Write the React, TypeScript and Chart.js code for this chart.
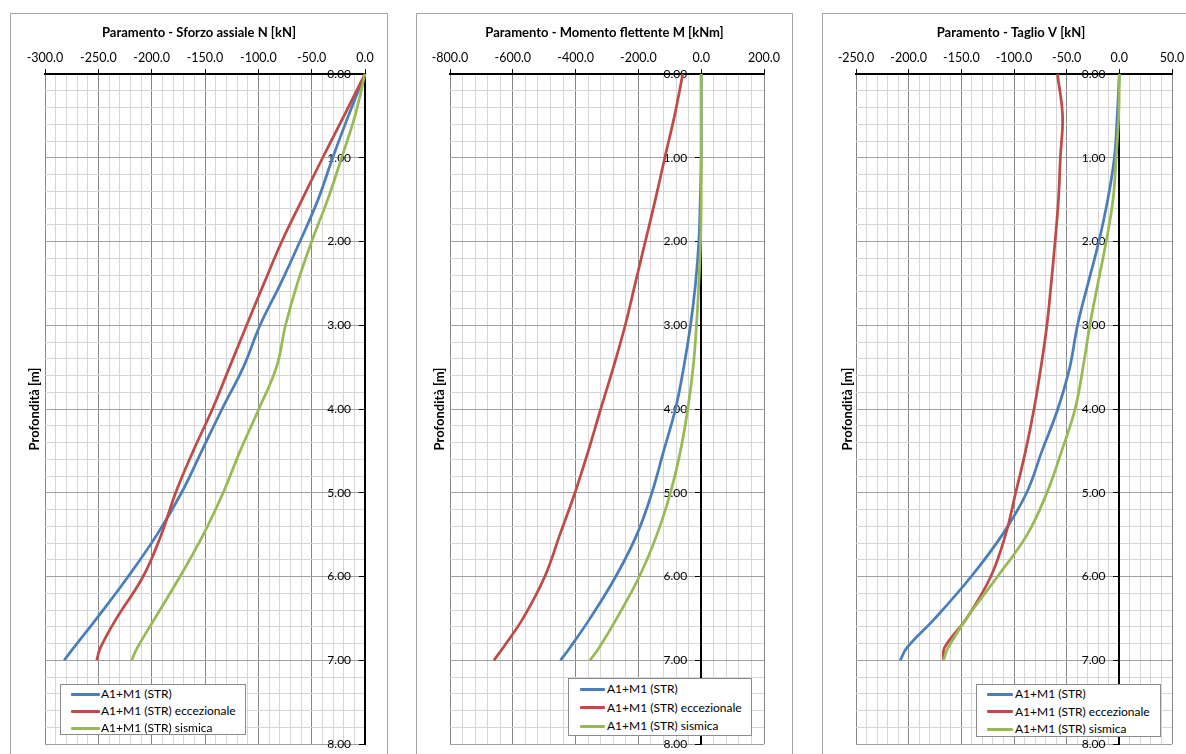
import React, { useEffect, useRef } from 'react';
import { Chart, registerables } from 'chart.js';

Chart.register(...registerables);

const FONT = 'Lato, "Liberation Sans", sans-serif';

// Depth values (m)
const depths = [0, 0.5, 1, 1.5, 2, 2.5, 3, 3.5, 4, 4.5, 5, 5.5, 6, 6.5, 6.85, 7];

const seriesNames = ['A1+M1 (STR)', 'A1+M1 (STR) eccezionale', 'A1+M1 (STR) sismica'];
const seriesColors = ['#4a7ebb', '#be4b48', '#98b954'];

// Sforzo assiale N [kN]
const nStr = [0, -15.6, -30.3, -44, -61, -79, -98.4, -114, -134, -153, -172, -195, -222, -251.5, -273, -282];
const nEcc = [0, -19.7, -39.7, -59, -78, -94.7, -111, -127, -143, -161, -177.5, -191, -208, -233, -248, -251.5];
const nSis = [0, -9.4, -21.9, -35, -50, -63.4, -74.5, -83, -99.5, -117, -133, -151.6, -173.4, -197, -213.4, -218.75];

// Momento flettente M [kNm]
const mStr = [0, 0, 0, -3, -7.5, -18, -34, -55.5, -82, -119.5, -157, -205, -272, -354, -418, -448];
const mEcc = [-58.7, -85, -116, -146, -178, -210, -242, -279.5, -320, -359.5, -402, -450, -498, -567.5, -631, -660];
const mSis = [0, 0, 0, 0, -2, -7.5, -15, -25.6, -42.7, -66, -98, -141, -197, -269, -325, -354];

// Taglio V [kN]
const vStr = [0, -2, -4.7, -11, -19.4, -29.7, -39.7, -47, -58.4, -73.4, -88, -111, -140.6, -175, -201.6, -208];
const vEcc = [-58.75, -53.9, -56, -57.8, -61, -64.7, -68.75, -74.4, -81, -89, -98.4, -108, -122, -145, -166, -167];
const vSis = [0, -0.6, -3, -6, -12.5, -20.3, -28, -34.4, -42, -54.7, -68.75, -87.5, -115.6, -145, -162.5, -167];

const titles = [
  'Paramento - Sforzo assiale N [kN]',
  'Paramento - Momento flettente M [kNm]',
  'Paramento - Taglio V [kN]',
];
const yTitle = 'Profondità [m]';

// x axis ranges: [min, max, major, minor]
const xRangeN = [-300, 0, 50, 10];
const xRangeM = [-800, 200, 200, 40];
const xRangeV = [-250, 50, 50, 10];
// y axis: [min, max, major, minor]
const yRange = [0, 8, 1, 0.2];

type LegendLayout = {
  left: number; top: number; width: number; height: number;
  sampleLeft: number; sampleWidth: number; textLeft: number; rowTop: number; rowGap: number;
};

type PanelCfg = {
  left: number; width: number; plotLeft: number; padRight: number; yTitleX: number;
  title: string; series: number[][]; xr: number[]; legend: LegendLayout;
};

const panels: PanelCfg[] = [
  {
    left: 10, width: 378, plotLeft: 34, padRight: 22, yTitleX: 24, title: titles[0],
    series: [nStr, nEcc, nSis], xr: xRangeN,
    legend: { left: 49, top: 670, width: 186, height: 51, sampleLeft: 11, sampleWidth: 29, textLeft: 41, rowTop: 9, rowGap: 17 },
  },
  {
    left: 416, width: 377, plotLeft: 33, padRight: 28, yTitleX: 23, title: titles[1],
    series: [mStr, mEcc, mSis], xr: xRangeM,
    legend: { left: 151, top: 664, width: 184, height: 58, sampleLeft: 12, sampleWidth: 25, textLeft: 39, rowTop: 10, rowGap: 18.5 },
  },
  {
    left: 822, width: 378, plotLeft: 33, padRight: 27, yTitleX: 25, title: titles[2],
    series: [vStr, vEcc, vSis], xr: xRangeV,
    legend: { left: 153, top: 670, width: 185, height: 53, sampleLeft: 11, sampleWidth: 26, textLeft: 39, rowTop: 9, rowGap: 17.5 },
  },
];

const PANEL_TOP = 13;
const PANEL_H = 780;
const PLOT_TOP = 60;
const PLOT_BOTTOM = 730;

const isMult = (v: number, step: number) => {
  const q = v / step;
  return Math.abs(q - Math.round(q)) < 1e-6;
};

function Panel({ cfg }: { cfg: PanelCfg }) {
  const ref = useRef<HTMLCanvasElement>(null);
  const innerW = cfg.width - 2;
  const innerH = PANEL_H - 2;

  useEffect(() => {
    const [xmin, xmax, xmaj, xmin2] = cfg.xr;
    const [ymin, ymax, ymaj, ymin2] = yRange;
    const titleFontSize = 13;
    const titleLH = titleFontSize * 1.2;
    const titlePadTop = 19 - titleLH / 2;
    const chart = new Chart(ref.current as HTMLCanvasElement, {
      type: 'scatter',
      data: {
        datasets: cfg.series.map((vals, i) => ({
          label: seriesNames[i],
          data: depths.map((d, j) => ({ x: vals[j], y: d })),
          showLine: true,
          borderColor: seriesColors[i],
          backgroundColor: seriesColors[i],
          borderWidth: 2.75,
          pointRadius: 0,
          pointHoverRadius: 0,
          tension: 0.4,
          clip: false as any,
          order: 2 - i,
          xAxisID: 'x',
          yAxisID: 'y',
        })),
      },
      options: {
        responsive: false,
        animation: false,
        events: [],
        layout: { padding: { left: 0, right: 0, top: 0, bottom: innerH - PLOT_BOTTOM } },
        plugins: {
          legend: { display: false },
          tooltip: { enabled: false },
          title: {
            display: true,
            text: cfg.title,
            color: '#000',
            font: { family: FONT, size: titleFontSize, weight: 'bold' },
            padding: { top: titlePadTop, bottom: 0 },
          },
        },
        scales: {
          x: {
            type: 'linear',
            position: 'top',
            min: xmin,
            max: xmax,
            ticks: {
              stepSize: xmin2,
              autoSkip: false,
              maxRotation: 0,
              color: '#000',
              padding: 4,
              font: { family: FONT, size: 12.5 },
              callback: (v: any) => (isMult(Number(v), xmaj) ? Number(v).toFixed(1) : ''),
            },
            grid: {
              color: (c: any) => (isMult(c.tick.value, xmaj) ? '#868686' : '#d6d6d6'),
              lineWidth: 1,
              tickLength: 5,
              tickColor: (c: any) => (isMult(c.tick.value, xmaj) ? '#000' : 'rgba(0,0,0,0)'),
            },
            border: { color: '#000', width: 2 },
            afterFit: (s: any) => {
              s.height = PLOT_TOP - (titlePadTop + titleLH);
            },
          },
          y: {
            type: 'linear',
            position: { x: 0 } as any,
            reverse: true,
            min: ymin,
            max: ymax,
            ticks: {
              stepSize: ymin2,
              autoSkip: false,
              color: '#000',
              font: { family: FONT, size: 12 },
              // trailing figure spaces keep the label clear of the axis line
              callback: (v: any) => (isMult(Number(v), ymaj) ? Number(v).toFixed(2) + '\u2007\u2007' : ''),
            },
            grid: {
              color: (c: any) => (isMult(c.tick.value, ymaj) ? '#a0a0a0' : '#d6d6d6'),
              lineWidth: 1,
              tickLength: 5,
              tickColor: (c: any) => (isMult(c.tick.value, ymaj) ? '#000' : 'rgba(0,0,0,0)'),
            },
            border: { color: '#000', width: 2 },
          },
          yTitle: {
            type: 'linear',
            position: 'left',
            min: ymin,
            max: ymax,
            ticks: { display: false },
            grid: { display: false, drawTicks: false },
            border: { display: false },
            title: {
              display: true,
              text: yTitle,
              color: '#000',
              font: { family: FONT, size: 13, weight: 'bold' },
              padding: { top: cfg.yTitleX - 7.8, bottom: 0 },
            },
            afterFit: (s: any) => {
              s.width = cfg.plotLeft;
            },
          },
          yRight: {
            type: 'linear',
            position: 'right',
            min: ymin,
            max: ymax,
            ticks: { display: false },
            grid: { display: false, drawTicks: false },
            border: { display: false },
            afterFit: (s: any) => {
              s.width = cfg.padRight;
            },
          },
        },
      } as any,
    });
    return () => chart.destroy();
  }, [cfg]);

  const lg = cfg.legend;
  return (
    <div
      style={{
        position: 'absolute',
        left: cfg.left,
        top: PANEL_TOP,
        width: cfg.width,
        height: PANEL_H,
        border: '1px solid #a6a6a6',
        boxSizing: 'border-box',
        background: '#fff',
      }}
    >
      <canvas
        ref={ref}
        width={innerW}
        height={innerH}
        style={{ position: 'absolute', left: 0, top: 0, width: innerW, height: innerH, display: 'block' }}
      />
      <div
        style={{
          position: 'absolute',
          left: lg.left,
          top: lg.top,
          width: lg.width,
          height: lg.height,
          border: '1px solid #8c8c8c',
          boxSizing: 'border-box',
          background: '#fff',
        }}
      >
        {seriesNames.map((name, i) => (
          <div
            key={name}
            style={{
              position: 'absolute',
              left: 0,
              top: lg.rowTop + i * lg.rowGap - 8,
              height: 16,
              width: '100%',
            }}
          >
            <div
              style={{
                position: 'absolute',
                left: lg.sampleLeft - 1,
                top: 6.5,
                width: lg.sampleWidth,
                height: 3,
                background: seriesColors[i],
                borderRadius: 1,
              }}
            />
            <div
              style={{
                position: 'absolute',
                left: lg.textLeft - 1,
                top: 0,
                lineHeight: '16px',
                fontFamily: FONT,
                fontSize: 12,
                color: '#000',
                whiteSpace: 'nowrap',
              }}
            >
              {name}
            </div>
          </div>
        ))}
      </div>
    </div>
  );
}

export default function App() {
  return (
    <div
      style={{
        position: 'fixed',
        left: 0,
        top: 0,
        width: 1186,
        height: 754,
        overflow: 'hidden',
        background: '#fff',
      }}
    >
      {panels.map((p, i) => (
        <Panel key={i} cfg={p} />
      ))}
    </div>
  );
}
